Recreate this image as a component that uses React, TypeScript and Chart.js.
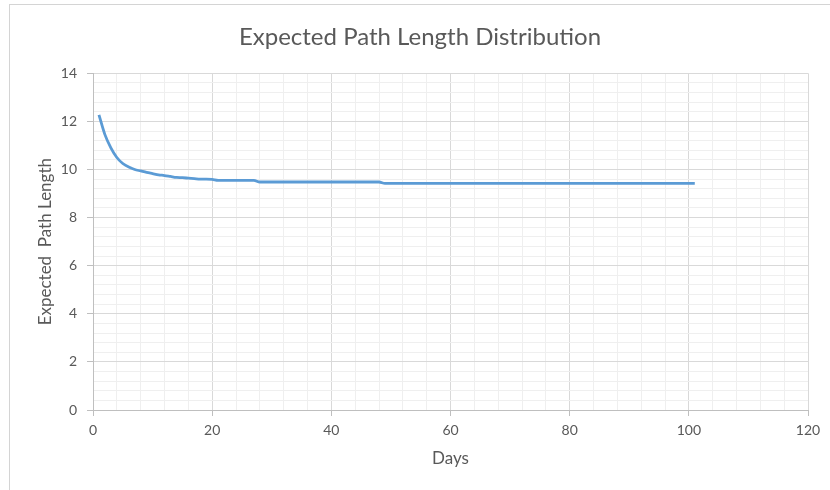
import React, { useEffect, useRef } from "react";
import { Chart, registerables } from "chart.js";

Chart.register(...registerables);

const chartTitle = "Expected Path Length Distribution";
const xAxisTitle = "Days";
const yAxisTitle = "Expected  Path Length";

// Day index of each simulation step
const days = [
  1, 2, 3, 4, 5, 6, 7, 8, 9, 10,
  11, 12, 13, 14, 15, 16, 17, 18, 19, 20,
  21, 22, 23, 24, 25, 26, 27, 28, 29, 30,
  31, 32, 33, 34, 35, 36, 37, 38, 39, 40,
  41, 42, 43, 44, 45, 46, 47, 48, 49, 50,
  51, 52, 53, 54, 55, 56, 57, 58, 59, 60,
  61, 62, 63, 64, 65, 66, 67, 68, 69, 70,
  71, 72, 73, 74, 75, 76, 77, 78, 79, 80,
  81, 82, 83, 84, 85, 86, 87, 88, 89, 90,
  91, 92, 93, 94, 95, 96, 97, 98, 99, 100,
  101,
];

// Expected path length per day
const expectedPathLength = [
  12.27, 11.45, 10.9, 10.5, 10.25, 10.1, 10.0, 9.94, 9.88, 9.83,
  9.78, 9.75, 9.71, 9.67, 9.66, 9.64, 9.62, 9.6, 9.6, 9.59,
  9.55, 9.55, 9.55, 9.55, 9.55, 9.55, 9.55, 9.48, 9.48, 9.48,
  9.48, 9.48, 9.48, 9.48, 9.48, 9.48, 9.48, 9.48, 9.48, 9.48,
  9.48, 9.48, 9.48, 9.48, 9.48, 9.48, 9.48, 9.48, 9.42, 9.42,
  9.42, 9.42, 9.42, 9.42, 9.42, 9.42, 9.42, 9.42, 9.42, 9.42,
  9.42, 9.42, 9.42, 9.42, 9.42, 9.42, 9.42, 9.42, 9.42, 9.42,
  9.42, 9.42, 9.42, 9.42, 9.42, 9.42, 9.42, 9.42, 9.42, 9.42,
  9.42, 9.42, 9.42, 9.42, 9.42, 9.42, 9.42, 9.42, 9.42, 9.42,
  9.42, 9.42, 9.42, 9.42, 9.42, 9.42, 9.42, 9.42, 9.42, 9.42,
  9.42,
];

// Labelled (major) ticks; minor gridlines fall between them
const xTickLabels = [0, 20, 40, 60, 80, 100, 120];
const yTickLabels = [0, 2, 4, 6, 8, 10, 12, 14];

const FONT = "Lato, 'Open Sans', sans-serif";
const TEXT = "#595959";
const MAJOR_GRID = "#d9d9d9";
const MINOR_GRID = "#efefef";
const AXIS_LINE = "#bfbfbf";

const isLabelled = (list: number[], v: number) =>
  list.some((t) => Math.abs(t - v) < 1e-6);

export default function App() {
  const canvasRef = useRef<HTMLCanvasElement | null>(null);

  useEffect(() => {
    const canvas = canvasRef.current;
    if (!canvas) return;

    const chart = new Chart(canvas, {
      type: "line",
      data: {
        datasets: [
          {
            data: days.map((d, i) => ({ x: d, y: expectedPathLength[i] })),
            borderColor: "#5b9bd5",
            borderWidth: 2.8,
            pointRadius: 0,
            fill: false,
            cubicInterpolationMode: "monotone",
          },
        ],
      },
      options: {
        animation: false,
        responsive: false,
        layout: { padding: { left: 22, right: 22, top: 0, bottom: 14 } },
        plugins: {
          legend: { display: false },
          tooltip: { enabled: false },
          title: {
            display: true,
            text: chartTitle,
            color: TEXT,
            font: { family: FONT, size: 24, weight: "normal" },
            padding: { top: 18, bottom: 21.5 },
          },
        },
        scales: {
          x: {
            type: "linear",
            min: 0,
            max: 120,
            afterFit: (scale: any) => {
              scale.height = 66;
            },
            ticks: {
              stepSize: 4,
              autoSkip: false,
              maxRotation: 0,
              color: TEXT,
              font: { family: FONT, size: 14 },
              padding: 6,
              callback: (v: any) =>
                isLabelled(xTickLabels, Number(v)) ? String(v) : "",
            },
            grid: {
              color: (ctx: any) =>
                isLabelled(xTickLabels, ctx.tick?.value) ? MAJOR_GRID : MINOR_GRID,
              tickColor: (ctx: any) =>
                isLabelled(xTickLabels, ctx.tick?.value) ? AXIS_LINE : "rgba(0,0,0,0)",
              tickLength: 6,
              lineWidth: 1,
            },
            border: { color: AXIS_LINE },
            title: {
              display: true,
              text: xAxisTitle,
              color: TEXT,
              font: { family: FONT, size: 17 },
              padding: { top: 0, bottom: 7 },
            },
          },
          y: {
            type: "linear",
            min: 0,
            max: 14,
            afterFit: (scale: any) => {
              scale.width = 61;
            },
            ticks: {
              stepSize: 0.4,
              autoSkip: false,
              color: TEXT,
              font: { family: FONT, size: 14 },
              padding: 10,
              callback: (v: any) =>
                isLabelled(yTickLabels, Number(v)) ? String(Math.round(Number(v))) : "",
            },
            grid: {
              color: (ctx: any) =>
                isLabelled(yTickLabels, ctx.tick?.value) ? MAJOR_GRID : MINOR_GRID,
              tickColor: (ctx: any) =>
                isLabelled(yTickLabels, ctx.tick?.value) ? AXIS_LINE : "rgba(0,0,0,0)",
              tickLength: 6,
              lineWidth: 1,
            },
            border: { color: AXIS_LINE },
            title: {
              display: true,
              text: yAxisTitle,
              color: TEXT,
              font: { family: FONT, size: 17 },
              padding: { top: 3, bottom: 0 },
            },
          },
        },
      },
    } as any);

    return () => chart.destroy();
  }, []);

  return (
    <div
      style={{
        position: "absolute",
        left: 9,
        top: 4,
        width: 821,
        height: 486,
        boxSizing: "border-box",
        borderTop: "1px solid #d4d4d4",
        borderLeft: "1px solid #d4d4d4",
        background: "#ffffff",
        overflow: "hidden",
      }}
    >
      <canvas ref={canvasRef} width={820} height={485} style={{ display: "block" }} />
    </div>
  );
}
